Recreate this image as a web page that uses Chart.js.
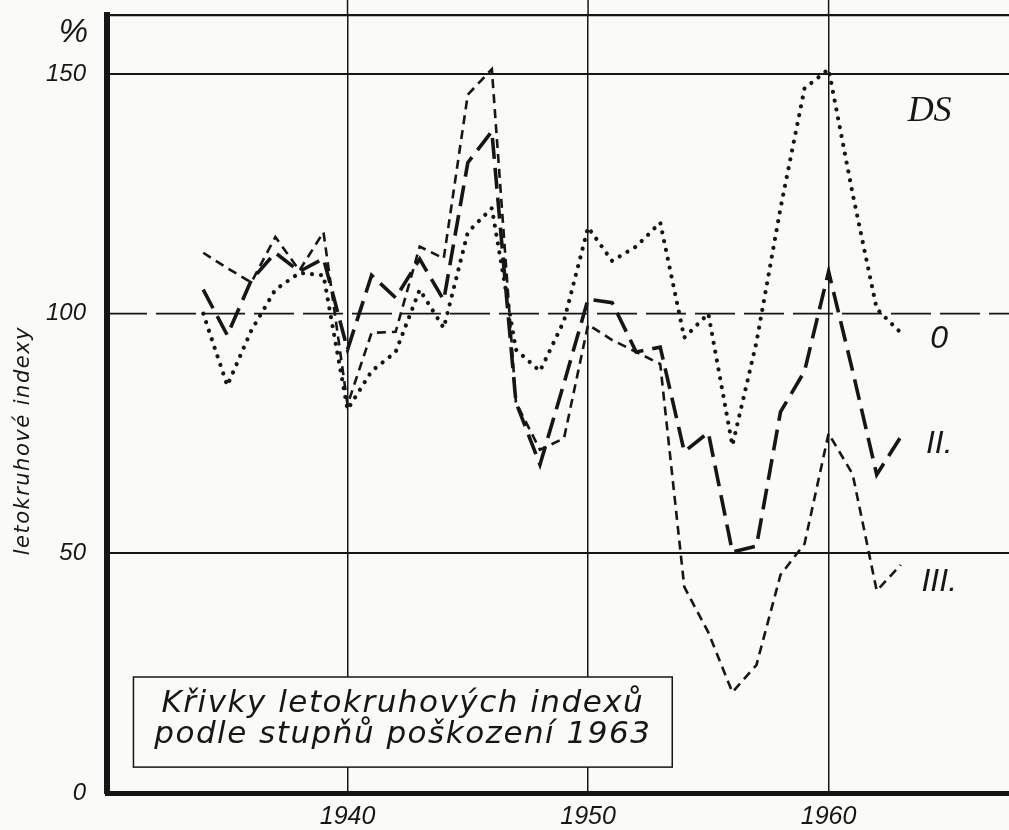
<!DOCTYPE html>
<html>
<head>
<meta charset="utf-8">
<script src="https://cdn.jsdelivr.net/npm/chart.js@4.4.1/dist/chart.umd.min.js"></script>
<style>
  html, body { margin: 0; padding: 0; background: #fafaf8; }
  canvas { display: block; }
</style>
</head>
<body>
<canvas id="chart" width="1009" height="830"></canvas>
<script>
// ---------------- data ----------------
const years = [1934,1935,1936,1937,1938,1939,1940,1941,1942,1943,1944,1945,1946,1947,1948,1949,
               1950,1951,1952,1953,1954,1955,1956,1957,1958,1959,1960,1961,1962,1963];
const series0   = [100, 85, 96.5, 105, 108.5, 108, 80, 88, 92, 105, 97, 117, 122, 92.5, 88, 98.5,
                   118, 111, 114, 119, 95, 100, 72.5, 94, 122, 147, 151, 125, 101, 96];
const seriesII  = [105, 95.5, 107, 112.7, 108.8, 111.5, 92.5, 108, 103.3, 111.4, 102.8, 131.5, 138, 81.5, 68.5, 85.5,
                   103, 102.3, 92, 93, 71.2, 75.2, 50.3, 51.5, 79.5, 88, 108.8, 88, 66.4, 74.3];
const seriesIII = [112.7, 109.5, 106.5, 116, 109, 117, 81, 96, 96.2, 114, 111.5, 145.7, 151, 81.5, 71.6, 74,
                   97.7, 94.5, 92, 89.5, 43, 33.5, 21, 26.7, 45.5, 52, 75, 66.5, 42.2, 47.6];
const seriesNames = ['0', 'II.', 'III.'];
const xTickYears  = [1930, 1940, 1950, 1960];
const yTickValues = [0, 50, 100, 150];
const yAxisTitle  = 'letokruhové indexy';
const unitText    = '%';
const groupText   = 'DS';
const boxLines    = ['Křivky letokruhových indexů', 'podle stupňů poškození 1963'];

// ---------------- layout / style ----------------
const INK = '#161616';
const PAPER = '#fafaf8';
const X_MIN = 1930, X_MAX = 1967.5;
const Y_MIN = 0, Y_MAX = 162.3;
const SANS = '"Liberation Sans", Arial, sans-serif';
const NARROW = '"Liberation Sans Narrow", "Liberation Sans", Arial, sans-serif';

const toXY = arr => years.map((yr, i) => ({ x: yr, y: arr[i] }));

const decor = {
  id: 'decor',
  beforeDraw(chart) {
    const { ctx, width, height } = chart;
    ctx.save();
    ctx.fillStyle = PAPER;
    ctx.fillRect(0, 0, width, height);
    ctx.restore();
  },
  beforeDatasetsDraw(chart) {
    const { ctx, chartArea, scales: { x, y } } = chart;
    ctx.save();
    ctx.strokeStyle = INK;
    // dashed 100 line
    ctx.lineWidth = 1.6;
    ctx.setLineDash([40, 9]);
    const py = y.getPixelForValue(100);
    ctx.beginPath();
    ctx.moveTo(chartArea.left, py);
    ctx.lineTo(chartArea.right, py);
    ctx.stroke();
    ctx.setLineDash([]);
    // vertical grid lines continue above the top frame
    ctx.lineWidth = 1.5;
    xTickYears.slice(1).forEach(v => {
      const px = x.getPixelForValue(v);
      ctx.beginPath();
      ctx.moveTo(px, 0);
      ctx.lineTo(px, chartArea.top);
      ctx.stroke();
    });
    ctx.restore();
  },
  afterDatasetsDraw(chart) {
    const { ctx, scales: { x, y } } = chart;
    ctx.save();
    ctx.fillStyle = INK;
    ctx.strokeStyle = INK;

    // title box
    const bx0 = x.getPixelForValue(1931.1), bx1 = x.getPixelForValue(1953.5);
    const by0 = y.getPixelForValue(24.2), by1 = y.getPixelForValue(5.4);
    ctx.fillStyle = PAPER;
    ctx.fillRect(bx0, by0, bx1 - bx0, by1 - by0);
    ctx.lineWidth = 1.5;
    ctx.strokeRect(bx0, by0, bx1 - bx0, by1 - by0);
    ctx.fillStyle = INK;
    ctx.textAlign = 'center';
    ctx.textBaseline = 'alphabetic';
    ctx.font = 'italic 31px "DejaVu Sans", sans-serif';
    if ('letterSpacing' in ctx) ctx.letterSpacing = '1.5px';
    const cx = (bx0 + bx1) / 2;
    ctx.fillText(boxLines[0], cx, y.getPixelForValue(16.9));
    ctx.fillText(boxLines[1], cx, y.getPixelForValue(10.4));
    if ('letterSpacing' in ctx) ctx.letterSpacing = '0px';

    // series labels at right
    ctx.font = 'italic 32px ' + SANS;
    ctx.textAlign = 'center';
    ctx.textBaseline = 'middle';
    const lx = x.getPixelForValue(1964.6);
    ctx.fillText(seriesNames[0], lx, y.getPixelForValue(94.6));
    ctx.fillText(seriesNames[1], lx, y.getPixelForValue(72.7));
    ctx.fillText(seriesNames[2], lx, y.getPixelForValue(44));
    ctx.font = 'italic 36px "Liberation Serif", serif';
    ctx.fillText(groupText, x.getPixelForValue(1964.2), y.getPixelForValue(142.2));

    // unit
    ctx.font = 'italic 33px ' + SANS;
    ctx.textAlign = 'right';
    ctx.fillText(unitText, 88, y.getPixelForValue(158.6));

    // y axis title
    ctx.font = 'italic 21px "DejaVu Sans", sans-serif';
    if ('letterSpacing' in ctx) ctx.letterSpacing = '1.5px';
    ctx.translate(24, y.getPixelForValue(73.5));
    ctx.rotate(-Math.PI / 2);
    ctx.textAlign = 'center';
    ctx.fillText(yAxisTitle, 0, 0);
    ctx.restore();
  }
};

new Chart(document.getElementById('chart'), {
  type: 'line',
  data: {
    datasets: [
      { label: seriesNames[0], data: toXY(series0), borderColor: INK, borderWidth: 4.2,
        borderDash: [0.01, 9], borderCapStyle: 'round', pointRadius: 0, tension: 0, fill: false },
      { label: seriesNames[1], data: toXY(seriesII), borderColor: INK, borderWidth: 3.6,
        borderDash: [21, 9], borderCapStyle: 'butt', pointRadius: 0, tension: 0, fill: false },
      { label: seriesNames[2], data: toXY(seriesIII), borderColor: INK, borderWidth: 2.6,
        borderDash: [9, 6], borderCapStyle: 'butt', pointRadius: 0, tension: 0, fill: false }
    ]
  },
  options: {
    responsive: false,
    devicePixelRatio: 1,
    animation: false,
    layout: { padding: { top: 15, right: 0, bottom: 0, left: 0 } },
    plugins: { legend: { display: false }, tooltip: { enabled: false } },
    scales: {
      x: {
        type: 'linear', min: X_MIN, max: X_MAX,
        afterBuildTicks: s => { s.ticks = xTickYears.map(v => ({ value: v })); },
        afterFit: s => { s.height = 37; s.paddingLeft = 0; s.paddingRight = 0; },
        ticks: {
          callback: v => (v === X_MIN ? '' : String(v)),
          font: { family: NARROW, size: 25, style: 'italic' },
          color: INK, padding: 9, maxRotation: 0, autoSkip: false
        },
        grid: {
          drawTicks: false,
          color: c => (c.tick && c.tick.value === X_MIN ? 'rgba(0,0,0,0)' : INK),
          lineWidth: 1.5
        },
        border: { display: true, color: INK, width: 5 }
      },
      y: {
        type: 'linear', min: Y_MIN, max: Y_MAX,
        afterBuildTicks: s => { s.ticks = yTickValues.concat([Y_MAX]).map(v => ({ value: v })); },
        afterFit: s => { s.width = 107; s.paddingTop = 0; s.paddingBottom = 0; },
        ticks: {
          callback: v => (v === Y_MAX ? '' : String(v)),
          font: { family: NARROW, size: 24, style: 'italic' },
          color: INK, padding: 21, autoSkip: false
        },
        grid: {
          drawTicks: false,
          color: c => {
            const v = c.tick ? c.tick.value : null;
            return (v === 50 || v === 150 || v === Y_MAX) ? INK : 'rgba(0,0,0,0)';
          },
          lineWidth: c => (c.tick && c.tick.value === Y_MAX ? 2.2 : 2)
        },
        border: { display: true, color: INK, width: 6 }
      }
    }
  },
  plugins: [decor]
});
</script>
</body>
</html>
